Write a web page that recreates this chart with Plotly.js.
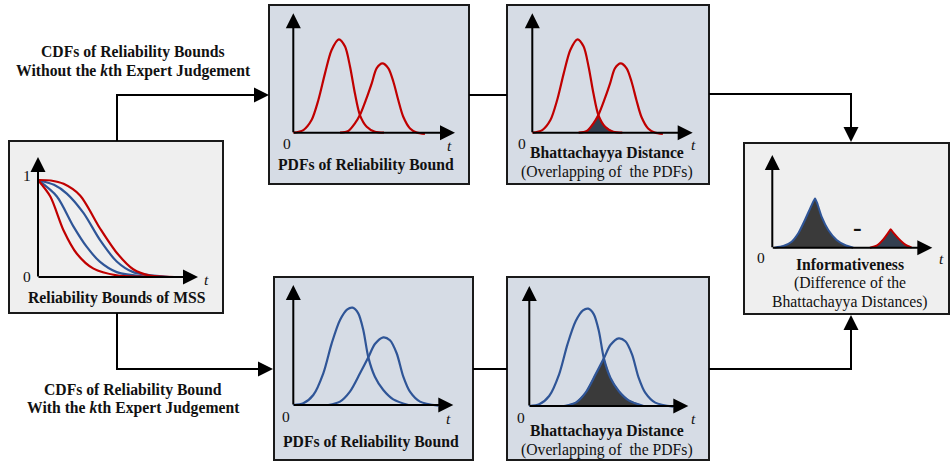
<!DOCTYPE html>
<html><head><meta charset="utf-8">
<script src="https://cdn.plot.ly/plotly-3.0.1.min.js"></script>
<style>html,body{margin:0;padding:0;background:#fff}</style>
</head><body><div id="chart" style="width:950px;height:462px"></div>
<script>
// ---------- data ----------
// Panel 1: CDFs of reliability bounds (t, R)
const cdfRedUpperT = [0, 0.8, 1.6, 2.63, 3.88, 4.92, 5.95, 6.99, 8.86];
const cdfRedUpperY = [1, 0.995, 0.96, 0.84, 0.5, 0.25, 0.08, 0.015, 0];
const cdfBlueUpperT = [0, 1.0, 1.8, 2.84, 3.88, 4.92, 5.95, 8.2];
const cdfBlueUpperY = [1, 0.95, 0.86, 0.66, 0.38, 0.16, 0.05, 0];
const cdfBlueLowerT = [0, 1.18, 2.22, 3.05, 3.88, 4.92, 6.6, 8.2];
const cdfBlueLowerY = [1, 0.83, 0.52, 0.31, 0.155, 0.05, 0.005, 0];
const cdfRedLowerT = [0, 0.77, 1.6, 2.43, 3.47, 4.92, 6.4, 8.86];
const cdfRedLowerY = [1, 0.83, 0.48, 0.24, 0.086, 0.017, 0.003, 0];

// PDFs without the kth expert judgement (red)
const pdfRed1T = [0, 0.62, 1.13, 1.55, 1.96, 2.37, 2.82, 3.20, 3.51, 3.81, 4.12, 4.54, 5.05, 5.61];
const pdfRed1Y = [0, 0.22, 1.06, 2.74, 4.97, 6.93, 7.82, 7.21, 5.53, 3.30, 1.48, 0.50, 0.08, 0];
const pdfRed2T = [2.89, 3.40, 3.81, 4.12, 4.49, 4.85, 5.15, 5.51, 5.88, 6.19, 6.49, 6.80, 7.22, 7.63, 8.14];
const pdfRed2Y = [0, 0.14, 0.78, 1.48, 2.74, 4.13, 5.39, 5.81, 5.39, 4.27, 2.74, 1.34, 0.36, 0.02, -0.1];
const overlapRedT = [2.89, 3.40, 3.81, 4.12, 4.33, 4.54, 5.05, 5.61];
const overlapRedY = [0, 0.14, 0.78, 1.48, 0.9, 0.50, 0.08, 0];

// PDFs with the kth expert judgement (blue)
const pdfBlue1T = [0, 0.625, 1.25, 1.875, 2.40, 2.92, 3.375, 3.71, 4.06, 4.375, 4.69, 5.10, 5.625, 6.25, 7.19];
const pdfBlue1Y = [0, 0.14, 0.83, 2.64, 5.14, 7.08, 7.97, 8.11, 7.64, 6.25, 3.97, 2.36, 1.25, 0.47, 0];
const pdfBlue2T = [2.19, 2.92, 3.54, 4.17, 4.69, 5.10, 5.625, 6.04, 6.46, 6.875, 7.29, 7.92, 9.06];
const pdfBlue2Y = [0, 0.28, 1.11, 2.64, 3.97, 5.08, 5.64, 5.39, 4.31, 2.36, 1.11, 0.28, -0.05];
const overlapBlueT = [2.19, 2.92, 3.54, 4.17, 4.69, 5.10, 5.625, 6.25, 7.19];
const overlapBlueY = [0, 0.28, 1.11, 2.64, 3.97, 2.36, 1.25, 0.47, 0];

// Informativeness panel: the two Bhattacharyya overlaps
const infoWithT = [0.125, 0.69, 1.21, 1.625, 2.04, 2.46, 2.67, 2.81, 3.08, 3.5, 4.02, 4.54, 5.06];
const infoWithY = [0, 0.18, 0.65, 1.55, 2.99, 4.60, 5.32, 4.78, 3.35, 1.91, 0.83, 0.29, 0];
const infoWithoutT = [6.10, 6.52, 6.94, 7.25, 7.40, 7.56, 7.88, 8.29, 8.71];
const infoWithoutY = [0, 0.22, 0.90, 1.62, 1.98, 1.62, 1.01, 0.36, 0];

// text
const boxTitles = ['Reliability Bounds of MSS', 'PDFs of Reliability Bound', 'Bhattachayya Distance',
  'Informativeness', 'PDFs of Reliability Bound', 'Bhattachayya Distance'];
const subTitleOverlap = '(Overlapping of  the PDFs)';
const infoSub1 = '(Difference of the', infoSub2 = 'Bhattachayya Distances)';
const topLabel = ['CDFs of Reliability Bounds', 'Without the <i>k</i>th Expert Judgement'];
const botLabel = ['CDFs of Reliability Bound', 'With the <i>k</i>th Expert Judgement'];

// ---------- styles / geometry ----------
const W = 950, H = 462;
const PX = x => x / W, PY = y => 1 - y / H;
const RED = '#c00000', BLUE = '#2f5597', NAVY = '#333f50', DARK = '#3a3a3a';
const SERIF = 'Liberation Serif, Times New Roman, serif';
const LW = 2.2;

// panels: origin (ox, oy) in px, tip x, tip y, data max in x and y at tips
const panels = [
  {ox: 38, oy: 277, tx: 198, ty: 157, xmax: 10, ymax: 1.237},
  {ox: 293.3, oy: 132.7, tx: 455, ty: 13.3, xmax: 10, ymax: 10},
  {ox: 532.3, oy: 132.7, tx: 692.7, ty: 13.3, xmax: 10, ymax: 10},
  {ox: 772.3, oy: 247.7, tx: 932.3, ty: 155, xmax: 10, ymax: 10},
  {ox: 293.3, oy: 405, tx: 453.3, ty: 285, xmax: 10, ymax: 10},
  {ox: 529.3, oy: 406, tx: 688.3, ty: 286, xmax: 10, ymax: 10}
];

const layout = {
  width: W, height: H, margin: {l: 0, r: 0, t: 0, b: 0},
  paper_bgcolor: '#ffffff', plot_bgcolor: 'rgba(0,0,0,0)',
  showlegend: false, shapes: [], annotations: []
};
const AS = 1.5;
panels.forEach((p, i) => {
  const sx = (p.tx - p.ox) / p.xmax, sy = (p.oy - p.ty) / p.ymax;
  const xr = [-0.6, p.xmax + 0.3], yr = [-0.06 * p.ymax, p.ymax * 1.02];
  const n = i === 0 ? '' : String(i + 1);
  layout['xaxis' + n] = {domain: [PX(p.ox + xr[0] * sx), PX(p.ox + xr[1] * sx)], range: xr,
    visible: false, fixedrange: true, anchor: 'y' + n};
  layout['yaxis' + n] = {domain: [PY(p.oy - yr[0] * sy), PY(p.oy - yr[1] * sy)], range: yr,
    visible: false, fixedrange: true, anchor: 'x' + n};
  p.xa = 'x' + n; p.ya = 'y' + n;
  // axis arrows
  layout.annotations.push({x: PX(p.tx), y: PY(p.oy), xref: 'paper', yref: 'paper', ax: p.ox - p.tx - 1, ay: 0,
    showarrow: true, arrowhead: 2, arrowsize: AS, arrowwidth: 2, arrowcolor: '#000', text: '', standoff: 0});
  layout.annotations.push({x: PX(p.ox), y: PY(p.ty), xref: 'paper', yref: 'paper', ax: 0, ay: p.oy - p.ty + 1,
    showarrow: true, arrowhead: 2, arrowsize: AS, arrowwidth: 2, arrowcolor: '#000', text: '', standoff: 0});
});

const traces = [];
function line(pi, x, y, color, extra) {
  traces.push(Object.assign({x: x, y: y, xaxis: panels[pi].xa, yaxis: panels[pi].ya, type: 'scatter', mode: 'lines',
    line: {color: color, width: LW, shape: 'spline', smoothing: 0.8}, hoverinfo: 'skip'}, extra || {}));
}
function fillArea(pi, x, y, color, shape) {
  traces.push({x: x, y: y, xaxis: panels[pi].xa, yaxis: panels[pi].ya, type: 'scatter', mode: 'lines',
    fill: 'tozeroy', fillcolor: color, line: {color: color, width: 0.5, shape: shape || 'spline', smoothing: 0.6}, hoverinfo: 'skip'});
}
// panel 1
line(0, cdfBlueLowerT, cdfBlueLowerY, BLUE);
line(0, cdfBlueUpperT, cdfBlueUpperY, BLUE);
line(0, cdfRedLowerT, cdfRedLowerY, RED);
line(0, cdfRedUpperT, cdfRedUpperY, RED);
// panel 2
line(1, pdfRed1T, pdfRed1Y, RED);
line(1, pdfRed2T, pdfRed2Y, RED);
// panel 3
fillArea(2, overlapRedT, overlapRedY, NAVY, 'linear');
line(2, pdfRed1T, pdfRed1Y, RED);
line(2, pdfRed2T, pdfRed2Y, RED);
// panel 4
traces.push({x: infoWithT, y: infoWithY, xaxis: panels[3].xa, yaxis: panels[3].ya, type: 'scatter', mode: 'lines',
  fill: 'tozeroy', fillcolor: DARK, line: {color: BLUE, width: 2, shape: 'spline', smoothing: 0.5}, hoverinfo: 'skip'});
traces.push({x: infoWithoutT, y: infoWithoutY, xaxis: panels[3].xa, yaxis: panels[3].ya, type: 'scatter', mode: 'lines',
  fill: 'tozeroy', fillcolor: NAVY, line: {color: RED, width: 2, shape: 'spline', smoothing: 0.5}, hoverinfo: 'skip'});
// panel 5
line(4, pdfBlue1T, pdfBlue1Y, BLUE);
line(4, pdfBlue2T, pdfBlue2Y, BLUE);
// panel 6
fillArea(5, overlapBlueT, overlapBlueY, DARK, 'linear');
line(5, pdfBlue1T, pdfBlue1Y, BLUE);
line(5, pdfBlue2T, pdfBlue2Y, BLUE);

// boxes
const GRAY = '#efefef', BLUEGRAY = '#d6dce5';
[[9, 141, 223, 313, GRAY], [269, 5, 469, 184, BLUEGRAY], [507, 5, 709, 184, BLUEGRAY],
 [744, 143, 949, 314, GRAY], [274, 277, 473, 460, BLUEGRAY], [507, 277, 709, 460, BLUEGRAY]].forEach(b => {
  layout.shapes.push({type: 'rect', xref: 'paper', yref: 'paper', x0: PX(b[0]), y0: PY(b[1]), x1: PX(b[2]), y1: PY(b[3]),
    fillcolor: b[4], line: {color: '#1a1a1a', width: 2}, layer: 'below'});
});
// connectors
function path(pts) {
  layout.shapes.push({type: 'path', xref: 'paper', yref: 'paper', layer: 'below',
    path: pts.map((p, i) => (i ? 'L' : 'M') + PX(p[0]) + ',' + PY(p[1])).join(' '), line: {color: '#000', width: 2}});
}
function arrow(tip, tail) {
  layout.annotations.push({x: PX(tip[0]), y: PY(tip[1]), xref: 'paper', yref: 'paper', ax: tail[0] - tip[0], ay: tail[1] - tip[1],
    showarrow: true, arrowhead: 2, arrowsize: AS, arrowwidth: 2, arrowcolor: '#000', text: '', standoff: 0});
}
path([[117, 141], [117, 95], [262, 95]]); arrow([269, 95], [252, 95]);
path([[469, 95], [507, 95]]);
path([[709, 94], [851, 94], [851, 136]]); arrow([851, 142], [851, 125]);
path([[117, 313], [117, 369], [266, 369]]); arrow([273, 369], [256, 369]);
path([[473, 369], [507, 369]]);
path([[709, 369], [851, 369], [851, 322]]); arrow([851, 315], [851, 332]);

// text
function txt(x, y, s, size, extra) {
  layout.annotations.push(Object.assign({x: PX(x), y: PY(y), xref: 'paper', yref: 'paper', text: s, showarrow: false,
    xanchor: 'center', yanchor: 'middle', font: {family: SERIF, size: size, color: '#111'}}, extra || {}));
}
const TS = 15.7;
txt(117, 298, '<b>' + boxTitles[0] + '</b>', TS);
txt(366, 165, '<b>' + boxTitles[1] + '</b>', TS);
txt(607, 153, '<b>' + boxTitles[2] + '</b>', TS);
txt(607, 172, subTitleOverlap, TS);
txt(850, 264, '<b>' + boxTitles[3] + '</b>', TS);
txt(850, 283, infoSub1, TS);
txt(850, 302, infoSub2, TS);
txt(371, 442, '<b>' + boxTitles[4] + '</b>', TS);
txt(607, 431, '<b>' + boxTitles[5] + '</b>', TS);
txt(607, 450, subTitleOverlap, TS);
txt(133, 52, '<b>' + topLabel[0] + '</b>', TS);
txt(133, 71, '<b>' + topLabel[1] + '</b>', TS);
txt(133, 390, '<b>' + botLabel[0] + '</b>', TS);
txt(133, 408, '<b>' + botLabel[1] + '</b>', TS);
// axis labels
const AL = 15.5;
txt(27, 175, '1', AL); txt(27, 276, '0', AL); txt(206, 279, '<i>t</i>', AL);
txt(287, 143, '0', AL); txt(449, 145, '<i>t</i>', AL);
txt(522, 143, '0', AL); txt(693, 144, '<i>t</i>', AL);
txt(761, 257, '0', AL); txt(941, 258, '<i>t</i>', AL);
txt(286, 416, '0', AL); txt(448, 418, '<i>t</i>', AL);
txt(521, 417, '0', AL); txt(693, 418, '<i>t</i>', AL);
txt(857, 228, '<b>-</b>', 26);

Plotly.newPlot('chart', traces, layout, {displayModeBar: false, staticPlot: true});
</script>
</body></html>
